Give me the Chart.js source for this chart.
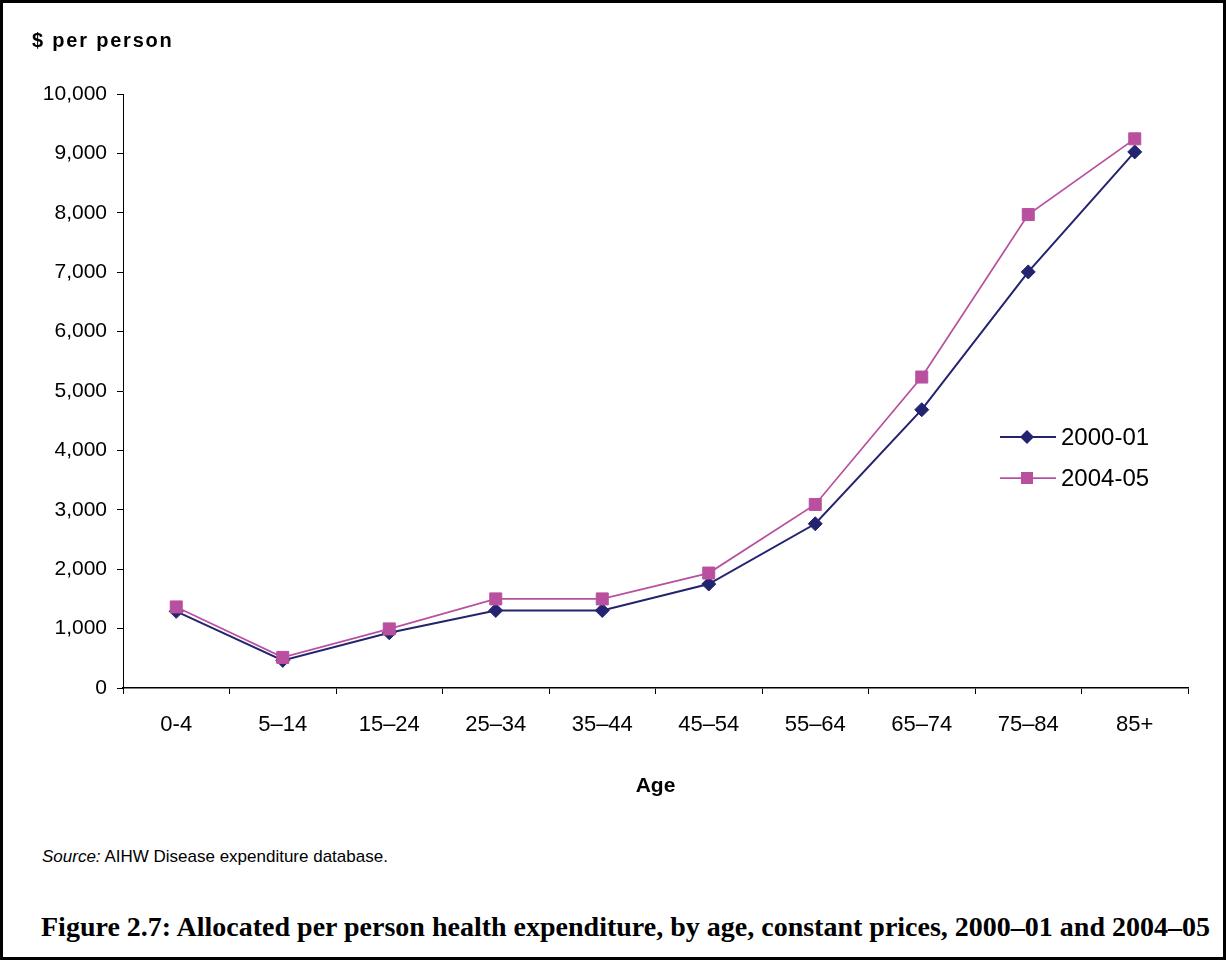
<!DOCTYPE html>
<html lang="en">
<head>
<meta charset="utf-8">
<title>Allocated per person health expenditure, by age</title>
<script src="https://cdn.jsdelivr.net/npm/chart.js"></script>
<style>
  html, body { margin: 0; padding: 0; background: #fff; }
  #page { position: relative; width: 1226px; height: 962px; overflow: hidden; background: #fff; }
  #frame { position: absolute; left: 0; top: 0; width: 1226px; height: 960px; box-sizing: border-box; border: 3px solid #000; }
  #chart { position: absolute; left: 0; top: 0; }
  .txt { position: absolute; white-space: nowrap; color: #000; }
  #ytitle { left: 32px; top: 28px; font: bold 20px "Liberation Sans", Arial, sans-serif; letter-spacing: 1.8px; line-height: 24px; }
  #source { left: 42px; top: 846px; font: 17px "Liberation Sans", Arial, sans-serif; line-height: 21px; }
  #caption { left: 41px; top: 912px; font: bold 24px "Liberation Serif", "Times New Roman", serif; line-height: 30px; }
</style>
</head>
<body>
<div id="page">
  <div id="frame"></div>
  <canvas id="chart" width="1226" height="820"></canvas>
  <div class="txt" id="ytitle">$ per person</div>
  <div class="txt" id="source"><i>Source:</i> AIHW Disease expenditure database.</div>
  <div class="txt" id="caption">Figure 2.7: Allocated per person health expenditure, by age, constant prices, 2000–01 and 2004–05</div>
</div>
<script>
// Age groups and allocated expenditure per person ($, constant prices)
const ageGroups = ['0-4', '5–14', '15–24', '25–34', '35–44', '45–54', '55–64', '65–74', '75–84', '85+'];
const spend2000 = [1290, 465, 930, 1305, 1305, 1750, 2765, 4685, 7005, 9025];
const spend2004 = [1365, 515, 995, 1500, 1500, 1935, 3090, 5235, 7970, 9245];
const seriesNames = ['2000-01', '2004-05'];
const yMax = 10000;
const yStep = 1000;

const NAVY = '#23236f';
const PINK = '#b9509f';
const SANS = '"Liberation Sans", Arial, sans-serif';

// Size the caption font so the line spans the figure width
(function fitCaption() {
  const el = document.getElementById('caption');
  const target = 1169;
  const base = 24;
  const w = el.getBoundingClientRect().width;
  if (w > 0) el.style.fontSize = (base * target / w).toFixed(2) + 'px';
})();

function drawMarker(ctx, style, x, y, r, color) {
  ctx.save();
  ctx.fillStyle = color;
  ctx.beginPath();
  if (style === 'rectRot') {
    ctx.moveTo(x, y - r); ctx.lineTo(x + r, y); ctx.lineTo(x, y + r); ctx.lineTo(x - r, y);
  } else {
    const s = r * Math.SQRT1_2;
    ctx.rect(x - s, y - s, 2 * s, 2 * s);
  }
  ctx.closePath();
  ctx.fill();
  ctx.restore();
}

// Legend sitting inside the plot, to the right
const sideLegend = {
  id: 'sideLegend',
  afterDraw(chart) {
    const ctx = chart.ctx;
    const rows = [437, 478];
    chart.data.datasets.forEach((ds, i) => {
      const y = rows[i];
      ctx.save();
      ctx.strokeStyle = ds.borderColor;
      ctx.lineWidth = ds.borderWidth;
      ctx.beginPath();
      ctx.moveTo(1000, y);
      ctx.lineTo(1056, y);
      ctx.stroke();
      drawMarker(ctx, ds.pointStyle, 1027, y, ds.pointRadius, ds.pointBackgroundColor);
      ctx.fillStyle = '#000';
      ctx.font = '24px ' + SANS;
      ctx.textAlign = 'left';
      ctx.textBaseline = 'middle';
      ctx.fillText(ds.label, 1061, y + 1);
      ctx.restore();
    });
  }
};

new Chart(document.getElementById('chart'), {
  type: 'line',
  data: {
    labels: ageGroups,
    datasets: [
      {
        label: seriesNames[0],
        data: spend2000,
        borderColor: NAVY,
        backgroundColor: NAVY,
        borderWidth: 2,
        pointStyle: 'rectRot',
        pointRadius: 7,
        pointBackgroundColor: NAVY,
        pointBorderColor: NAVY,
        pointBorderWidth: 1,
        tension: 0,
        order: 2
      },
      {
        label: seriesNames[1],
        data: spend2004,
        borderColor: PINK,
        backgroundColor: PINK,
        borderWidth: 1.75,
        pointStyle: 'rect',
        pointRadius: 8.5,
        pointBackgroundColor: PINK,
        pointBorderColor: PINK,
        pointBorderWidth: 1,
        tension: 0,
        order: 1
      }
    ]
  },
  options: {
    responsive: false,
    animation: false,
    events: [],
    layout: { padding: { left: 0, top: 94, right: 38, bottom: 0 } },
    plugins: {
      legend: { display: false },
      tooltip: { enabled: false },
      title: { display: false }
    },
    scales: {
      x: {
        type: 'category',
        offset: true,
        grid: { offset: true, drawOnChartArea: false, drawTicks: true, tickLength: 6, color: '#000', lineWidth: 1 },
        border: { display: true, color: '#000', width: 1.5 },
        ticks: { color: '#000', padding: 18, font: { family: SANS, size: 22, lineHeight: 1.2 }, maxRotation: 0, autoSkip: false },
        title: { display: true, text: 'Age', color: '#000', font: { family: SANS, size: 21, weight: 'bold', lineHeight: 1.2 }, padding: { top: 0, bottom: 21 } },
        afterFit(scale) { scale.height = 132; }
      },
      y: {
        min: 0,
        max: yMax,
        grid: { drawOnChartArea: false, drawTicks: true, tickLength: 6, color: '#000', lineWidth: 1 },
        border: { display: true, color: '#000', width: 1 },
        ticks: {
          stepSize: yStep,
          color: '#000',
          padding: 10,
          font: { family: SANS, size: 21, lineHeight: 1.2 },
          callback: (v) => Number(v).toLocaleString('en-US')
        },
        afterFit(scale) { scale.width = 123; }
      }
    }
  },
  plugins: [sideLegend]
});
</script>
</body>
</html>
